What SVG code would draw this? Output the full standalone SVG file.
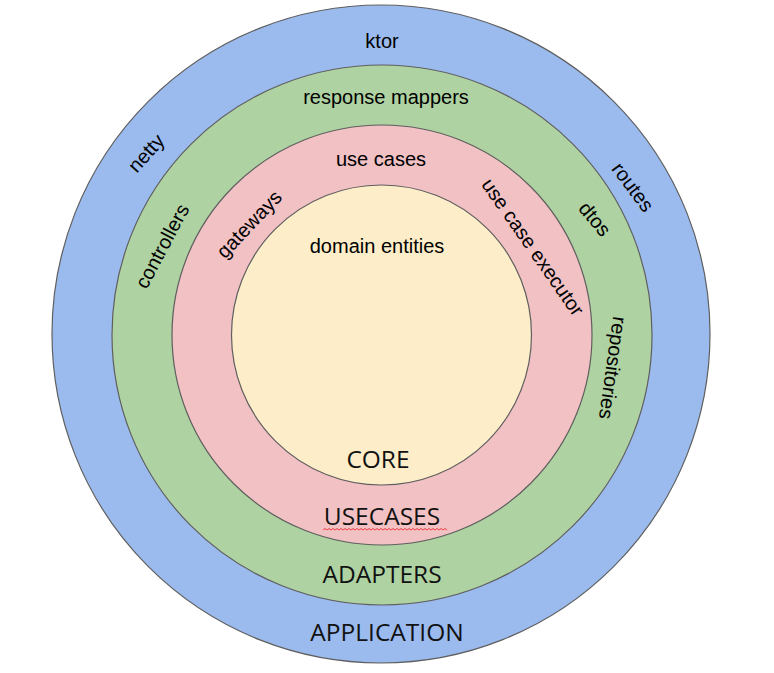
<svg xmlns="http://www.w3.org/2000/svg" width="774" height="673" viewBox="0 0 774 673">
<style>
.ring{stroke:#5f5f5f;stroke-width:1.2}
.lbl{font-family:"Liberation Sans",Arial,sans-serif;font-size:20px;fill:#000;text-anchor:middle}
.big{font-family:"Open Sans","Noto Sans",sans-serif;font-size:24.5px;fill:#111;text-anchor:middle}
</style>
<rect width="774" height="673" fill="#fff"/>
<g id="application">
<circle class="ring" cx="381" cy="334" r="329" fill="#9bbbee"/>
<text class="lbl" x="382" y="48">ktor</text>
<text class="lbl" transform="translate(146,153) rotate(-48)" dy="7">netty</text>
<text class="lbl" transform="translate(633,187) rotate(53)" dy="7">routes</text>
<text class="big" x="387" y="641">APPLICATION</text>
</g>
<g id="adapters">
<circle class="ring" cx="382" cy="335" r="270" fill="#afd2a2"/>
<text class="lbl" x="386" y="104">response mappers</text>
<text class="lbl" transform="translate(162,246) rotate(-62)" dy="7">controllers</text>
<text class="lbl" transform="translate(595,219) rotate(50)" dy="7">dtos</text>
<text class="lbl" transform="translate(613,368) rotate(98)" dy="7">repositories</text>
<text class="big" x="382" y="583">ADAPTERS</text>
</g>
<g id="usecases">
<circle class="ring" cx="382" cy="335" r="210" fill="#f1c1c4"/>
<text class="lbl" x="381" y="166">use cases</text>
<text class="lbl" transform="translate(249,224) rotate(-46.5)" dy="7">gateways</text>
<text class="lbl" transform="translate(533,247) rotate(55)" dy="7">use case executor</text>
<text class="big" x="382" y="525">USECASES</text>
<path d="M323 530 l2 -1.5 l2 1.5 l2 -1.5 l2 1.5 l2 -1.5 l2 1.5 l2 -1.5 l2 1.5 l2 -1.5 l2 1.5 l2 -1.5 l2 1.5 l2 -1.5 l2 1.5 l2 -1.5 l2 1.5 l2 -1.5 l2 1.5 l2 -1.5 l2 1.5 l2 -1.5 l2 1.5 l2 -1.5 l2 1.5 l2 -1.5 l2 1.5 l2 -1.5 l2 1.5 l2 -1.5 l2 1.5 l2 -1.5 l2 1.5 l2 -1.5 l2 1.5 l2 -1.5 l2 1.5 l2 -1.5 l2 1.5 l2 -1.5 l2 1.5 l2 -1.5 l2 1.5 l2 -1.5 l2 1.5 l2 -1.5 l2 1.5 l2 -1.5 l2 1.5 l2 -1.5 l2 1.5 l2 -1.5 l2 1.5 l2 -1.5 l2 1.5 l2 -1.5 l2 1.5 l2 -1.5 l2 1.5 l2 -1.5 l2 1.5 l2 -1.5 l2 1.5" fill="none" stroke="#e33" stroke-width="0.9"/>
</g>
<g id="core">
<circle class="ring" cx="381.5" cy="335" r="150" fill="#fdeec9"/>
<text class="lbl" x="377" y="253">domain entities</text>
<text class="big" x="378" y="468">CORE</text>
</g>
<g id="connectors"/>
</svg>
